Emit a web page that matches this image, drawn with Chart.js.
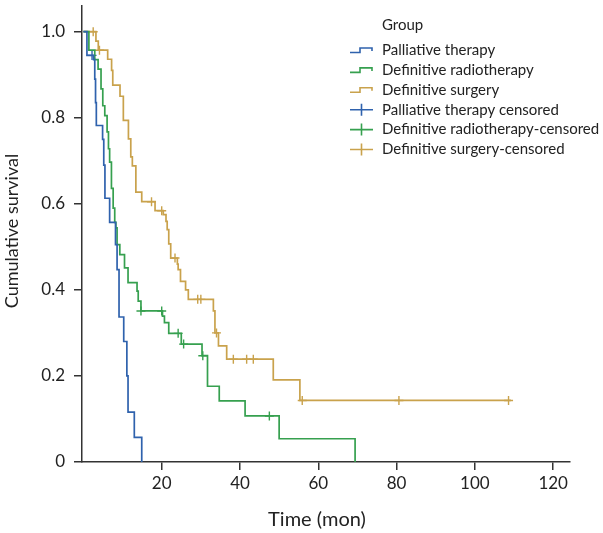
<!DOCTYPE html>
<html>
<head>
<meta charset="utf-8">
<title>Cumulative survival by group</title>
<script src="https://cdn.jsdelivr.net/npm/chart.js@4.4.1/dist/chart.umd.min.js"></script>
<style type="text/css">
	body { margin: 0; background: #fff; }
	#chartBox { width: 603px; height: 533px; }
</style>
</head>
<body>

<div id="chartBox">
	<canvas id="survivalChart" width="603" height="533"></canvas>
</div>

<script type="text/javascript">

// --- data (months, cumulative survival) ---
var palliativeTime = [0, 0.9, 2.6, 2.9, 3.1, 3.3, 4.9, 5.2, 5.5, 6.7, 8.2, 8.6, 9.1, 10.3, 11.1, 11.4, 13.0, 14.9];
var palliativeSurv = [1, 0.945, 0.935, 0.89, 0.835, 0.782, 0.75, 0.69, 0.613, 0.557, 0.505, 0.447, 0.337, 0.28, 0.2, 0.116, 0.057, 0];

var radioTime = [0, 1.4, 2.9, 3.75, 4.5, 4.95, 5.46, 6.05, 6.4, 6.7, 7.16, 7.6, 8.0, 8.3, 8.6, 9.3, 10.5, 11.4, 13.7, 14.0, 14.7, 20.2, 20.7, 21.8, 25.0, 30.3, 31.7, 34.7, 41.3, 50.0, 69.4];
var radioSurv = [1, 0.957, 0.935, 0.913, 0.867, 0.828, 0.805, 0.767, 0.728, 0.697, 0.636, 0.59, 0.557, 0.544, 0.505, 0.482, 0.451, 0.417, 0.397, 0.374, 0.351, 0.339, 0.324, 0.299, 0.274, 0.247, 0.176, 0.142, 0.107, 0.054, 0];

var surgeryTime = [0, 3.2, 3.8, 6.2, 7.2, 7.5, 9.35, 10.2, 11.5, 12.1, 12.5, 13.4, 14.9, 18.3, 20.4, 21.1, 21.4, 21.8, 22.3, 24.0, 24.2, 24.8, 26.1, 26.8, 33.2, 33.6, 34.5, 36.6, 48.5, 55.3, 109.2];
var surgerySurv = [1, 0.978, 0.957, 0.936, 0.91, 0.876, 0.85, 0.794, 0.751, 0.709, 0.688, 0.627, 0.605, 0.584, 0.575, 0.559, 0.54, 0.507, 0.474, 0.46, 0.447, 0.42, 0.4, 0.378, 0.351, 0.3, 0.27, 0.239, 0.191, 0.143, 0.143];

// censored marks
var palliativeCensTime = [2.2];
var palliativeCensSurv = [0.945];
var radioCensTime = [14.7, 20.0, 24.2, 25.6, 30.5, 47.5];
var radioCensSurv = [0.351, 0.351, 0.299, 0.274, 0.247, 0.107];
var surgeryCensTime = [2.5, 4.1, 17.4, 20.0, 23.4, 29.2, 30.0, 34.0, 38.3, 41.7, 43.4, 55.9, 80.6, 108.6];
var surgeryCensSurv = [1, 0.957, 0.605, 0.584, 0.474, 0.378, 0.378, 0.3, 0.239, 0.239, 0.239, 0.143, 0.143, 0.143];

var groupNames = ['Palliative therapy', 'Definitive radiotherapy', 'Definitive surgery',
	'Palliative therapy censored', 'Definitive radiotherapy-censored', 'Definitive surgery-censored'];
var xTicks = [20, 40, 60, 80, 100, 120];
var yTicks = [0, 0.2, 0.4, 0.6, 0.8, 1.0];
var yTickLabels = ['0', '0.2', '0.4', '0.6', '0.8', '1.0'];

var blue = '#2f62ad';
var green = '#36a04f';
var gold = '#c9a24c';
var ink = '#222';
var fontName = 'Lato';

function toPoints(ts, ss) {
	return ts.map(function (t, i) { return { x: t, y: ss[i] }; });
}

function curve(label, ts, ss, color) {
	return {
		label: label,
		data: toPoints(ts, ss),
		borderColor: color,
		borderWidth: 1.7,
		stepped: true,
		pointRadius: 0,
		fill: false
	};
}

function censored(label, ts, ss, color) {
	return {
		label: label,
		data: toPoints(ts, ss),
		borderColor: color,
		backgroundColor: color,
		showLine: false,
		pointStyle: 'cross',
		pointRadius: 4.5,
		pointBorderWidth: 1.4
	};
}

// legend + axis titles drawn by hand so they sit where the original has them
var extras = {
	id: 'extras',
	afterDraw: function (chart) {
		var ctx = chart.ctx;
		ctx.save();
		ctx.fillStyle = ink;
		ctx.textAlign = 'center';
		ctx.textBaseline = 'middle';
		ctx.font = '20px ' + fontName;
		ctx.fillText('Time (mon)', 317, 520);
		ctx.font = '18px ' + fontName;
		ctx.translate(12, 231);
		ctx.rotate(-Math.PI / 2);
		ctx.fillText('Cumulative survival', 0, 0);
		ctx.restore();

		ctx.save();
		ctx.font = '15px ' + fontName;
		ctx.fillStyle = ink;
		ctx.textAlign = 'left';
		ctx.textBaseline = 'middle';
		ctx.fillText('Group', 382, 25);
		var colors = [blue, green, gold, blue, green, gold];
		for (var i = 0; i < groupNames.length; i++) {
			var y = 50 + i * 19.9;
			ctx.strokeStyle = colors[i];
			ctx.lineWidth = 1.6;
			ctx.beginPath();
			if (i < 3) {
				ctx.moveTo(350, y + 2.5);
				ctx.lineTo(360, y + 2.5);
				ctx.lineTo(360, y - 2);
				ctx.lineTo(372, y - 2);
				ctx.lineTo(372, y + 1);
			} else {
				ctx.moveTo(350, y);
				ctx.lineTo(373, y);
				ctx.moveTo(361.5, y - 6);
				ctx.lineTo(361.5, y + 6);
			}
			ctx.stroke();
			ctx.fillStyle = ink;
			ctx.fillText(groupNames[i], 382, y);
		}
		ctx.restore();
	}
};

var chartJS = new Chart(document.getElementById('survivalChart').getContext('2d'), {
	type: 'line',
	data: {
		datasets: [
			curve(groupNames[0], palliativeTime, palliativeSurv, blue),
			curve(groupNames[1], radioTime, radioSurv, green),
			curve(groupNames[2], surgeryTime, surgerySurv, gold),
			censored(groupNames[3], palliativeCensTime, palliativeCensSurv, blue),
			censored(groupNames[4], radioCensTime, radioCensSurv, green),
			censored(groupNames[5], surgeryCensTime, surgeryCensSurv, gold)
		]
	},
	options: {
		responsive: false,
		animation: false,
		layout: { padding: { top: 3, right: 33, left: 0, bottom: 0 } },
		plugins: {
			legend: { display: false },
			tooltip: { enabled: false }
		},
		scales: {
			x: {
				type: 'linear',
				min: -0.36,
				max: 124.3,
				afterBuildTicks: function (scale) {
					scale.ticks = xTicks.map(function (v) { return { value: v }; });
				},
				afterFit: function (scale) {
					scale.height = 71;
					scale.paddingLeft = 0;
					scale.paddingRight = 0;
				},
				grid: { drawOnChartArea: false, tickLength: 8, color: '#333', lineWidth: 1.5 },
				border: { color: '#333', width: 1.5 },
				ticks: { font: { family: fontName, size: 17 }, color: ink, padding: 3, maxRotation: 0, autoSkip: false }
			},
			y: {
				min: 0,
				max: 1.06,
				afterBuildTicks: function (scale) {
					scale.ticks = yTicks.map(function (v) { return { value: v }; });
				},
				afterFit: function (scale) {
					scale.width = 82;
					scale.paddingTop = 0;
					scale.paddingBottom = 0;
				},
				grid: { drawOnChartArea: false, tickLength: 8, color: '#333', lineWidth: 1.5 },
				border: { color: '#333', width: 1.5 },
				ticks: {
					font: { family: fontName, size: 17 },
					color: ink,
					padding: 9,
					autoSkip: false,
					callback: function (value, index) { return yTickLabels[index]; }
				}
			}
		}
	},
	plugins: [extras]
});

</script>

</body>
</html>
